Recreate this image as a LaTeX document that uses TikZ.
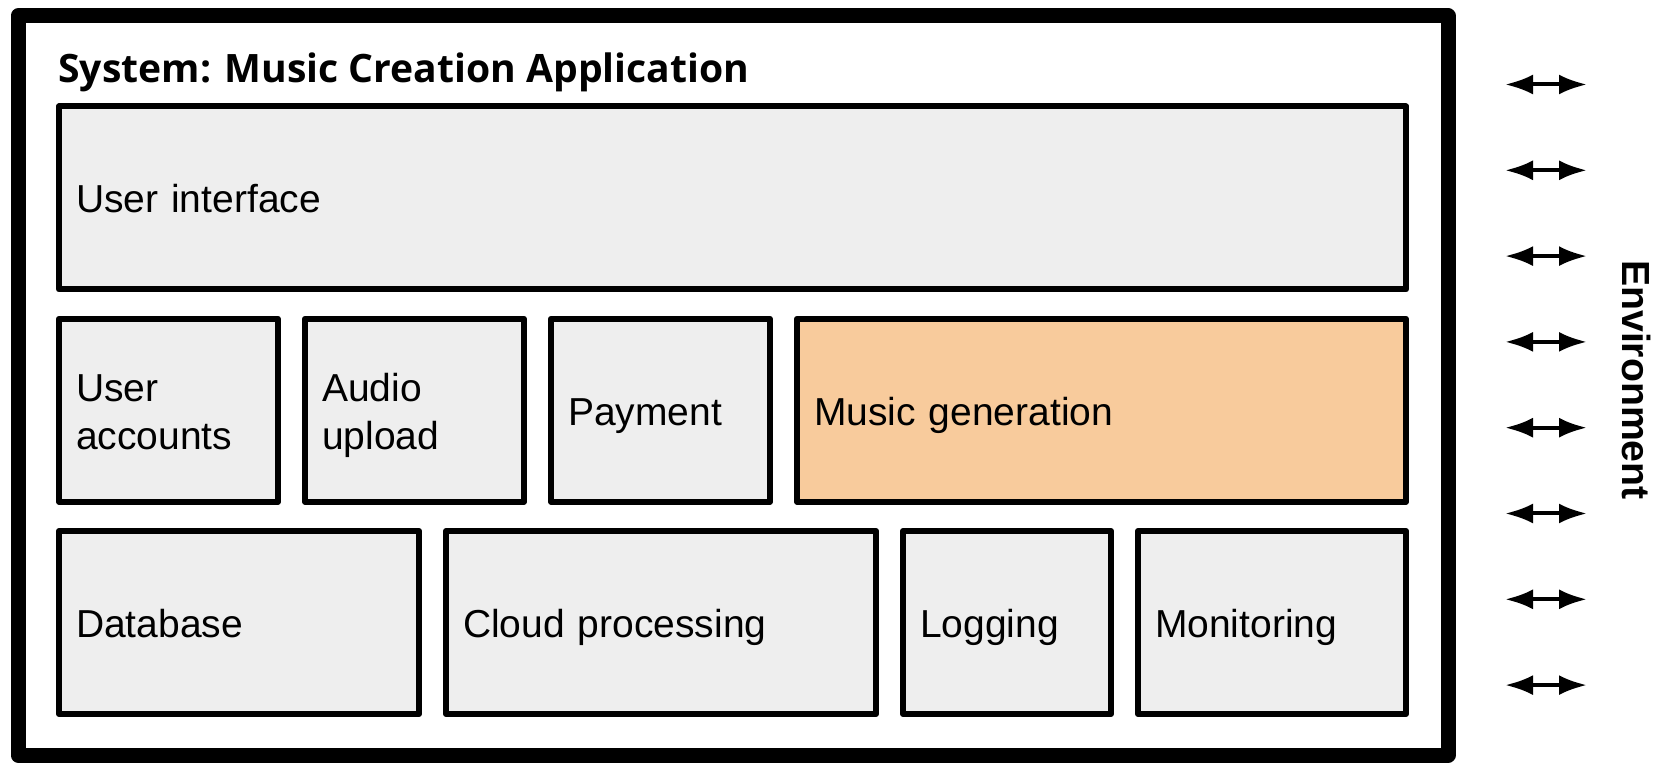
\documentclass[tikz,border=0pt]{standalone}
\usepackage{fontspec}
\usetikzlibrary{arrows.meta}
\newfontfamily\blockfont{Liberation Sans}
\newfontfamily\titlefont{Open Sans}
\definecolor{blockgray}{HTML}{EEEEEE}
\definecolor{genorange}{HTML}{F8CB9C}
\newcommand\blockstrut{\rule[-4.1pt]{0pt}{23.2pt}}
\tikzset{
	block/.style={draw,line width=3pt,line join=round,fill=blockgray,anchor=north west,outer sep=0pt,inner xsep=8.5pt,inner ysep=0pt,minimum height=91.5pt,align=left,font=\blockfont\fontsize{19.5pt}{22.7pt}\selectfont,execute at begin node=\blockstrut,execute at end node=\blockstrut},
	envarrow/.style={line width=2pt,{Latex[length=14pt,width=10pt]}-{Latex[length=14pt,width=10pt]}}
}
\begin{document}
\begin{tikzpicture}[x=0.5pt,y=-0.5pt]
		\useasboundingbox (0,0) rectangle (1656,764);
		\draw[line width=7.5pt,line join=round] (18,16) rectangle (1448,755);
		\node[anchor=base west,inner sep=0pt,font=\titlefont\bfseries\fontsize{19.55pt}{23pt}\selectfont] (title) at (58,82.3) {System: Music Creation Application};
		\node[block,text width=656.5pt] (ui) at (59,106.5) {User interface};
		\node[block,text width=92.5pt] (accounts) at (59,318.8) {User\\accounts};
		\node[block,text width=92.5pt] (upload) at (305,318.8) {Audio\\upload};
		\node[block,text width=92.5pt] (payment) at (551,318.8) {Payment};
		\node[block,fill=genorange,text width=287.5pt] (musicgen) at (797,318.8) {Music generation};
		\node[block,text width=163pt] (database) at (59,531) {Database};
		\node[block,text width=198pt] (cloud) at (446,531) {Cloud processing};
		\node[block,text width=87pt] (logging) at (903,531) {Logging};
		\node[block,text width=117pt] (monitoring) at (1138,531) {Monitoring};
		\foreach \i in {0,...,7}{
			\coordinate (envL\i) at (1505,{84.5+85.8*\i});
			\coordinate (envR\i) at (1587,{84.5+85.8*\i});
			\draw[envarrow] (envL\i) -- (envR\i);
		}
		\node[rotate=-90,inner sep=0pt,font=\blockfont\bfseries\fontsize{19.6pt}{23pt}\selectfont] (env) at (1636.5,380) {Environment};
	\end{tikzpicture}
\end{document}
